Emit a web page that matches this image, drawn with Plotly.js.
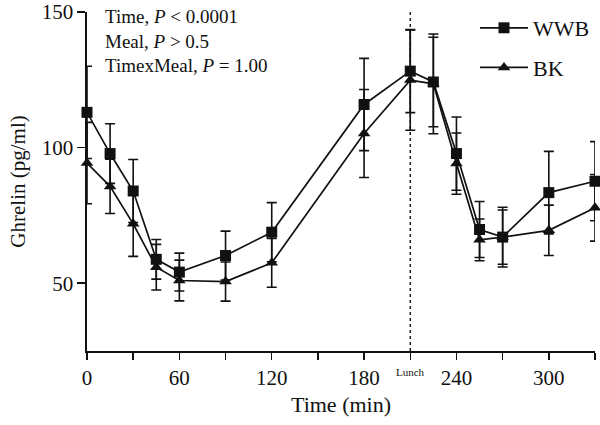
<!DOCTYPE html>
<html>
<head>
<meta charset="utf-8">
<script src="https://cdn.plot.ly/plotly-3.0.1.min.js"></script>
<style>html,body{margin:0;padding:0;background:#fff;}#chart{width:600px;height:425px;}</style>
</head>
<body>
<div id="chart"></div>
<script>
const timeMin = [0, 15, 30, 45, 60, 90, 120, 180, 210, 225, 240, 255, 270, 300, 330];
const wwbMean = [113, 97.8, 84, 58.8, 54.1, 60.2, 68.8, 115.9, 128.2, 124.2, 97.8, 69.8, 67, 83.4, 87.6];
const wwbErr  = [17, 11, 11.6, 7.3, 7, 9, 10.9, 17, 15.3, 16.5, 13.5, 10.3, 11, 15.2, 14.6];
const bkMean  = [94.3, 85.7, 71.9, 55.9, 51, 50.6, 57.5, 105.2, 124.9, 123.5, 94.1, 66, 67, 69.5, 77.8];
const bkErr   = [15, 10, 12, 8.4, 7.5, 7.2, 9, 16.2, 18.5, 18.4, 11.3, 7.7, 10, 9.3, 12.3];
const seriesNames = ['WWB', 'BK'];
const xTickVals = [0, 30, 60, 90, 120, 150, 180, 210, 240, 270, 300, 330];
const xTickText = ['0', '', '60', '', '120', '', '180', '', '240', '', '300', ''];
const yTickVals = [50, 100, 150];
const lunchTime = 210;
const statsLines = ['Time, <i>P</i> &lt; 0.0001', 'Meal, <i>P</i> &gt; 0.5', 'TimexMeal, <i>P</i> = 1.00'];

const serif = 'Liberation Serif, Times New Roman, serif';
const black = '#111111';

function trace(name, y, err, symbol, size, group) {
  return {
    x: timeMin, y: y, name: name, type: 'scatter', mode: 'lines+markers',
    legendgroup: group,
    line: {color: black, width: 1.7},
    marker: {symbol: symbol, size: size, color: black},
    error_y: {type: 'data', array: err, visible: true, color: black, thickness: 1.6, width: 5},
    cliponaxis: false
  };
}

const data = [
  trace(seriesNames[0], wwbMean, wwbErr, 'square', 11, 'a'),
  trace(seriesNames[1], bkMean, bkErr, 'triangle-up', 11, 'b')
];

const layout = {
  width: 600, height: 425,
  margin: {l: 87, r: 5, t: 12, b: 74},
  paper_bgcolor: '#fff', plot_bgcolor: '#fff',
  font: {family: serif, color: black},
  showlegend: true,
  legend: {
    x: 1, y: 1 + 5 / 339, xanchor: 'right', yanchor: 'top',
    font: {family: serif, size: 22, color: black},
    bgcolor: 'rgba(0,0,0,0)', tracegroupgap: 8, itemwidth: 48, traceorder: 'grouped'
  },
  xaxis: {
    range: [0, 330], tickmode: 'array', tickvals: xTickVals, ticktext: xTickText,
    ticks: 'outside', ticklen: 7, tickwidth: 1.5, tickcolor: black,
    showline: true, linecolor: black, linewidth: 1.6, showgrid: false, zeroline: false,
    tickfont: {family: serif, size: 21, color: black},
    title: {text: 'Time (min)', font: {family: serif, size: 22, color: black}, standoff: 8}
  },
  yaxis: {
    range: [25, 150], tickmode: 'array', tickvals: yTickVals,
    ticks: 'outside', ticklen: 8, tickwidth: 1.5, tickcolor: black,
    showline: true, linecolor: black, linewidth: 1.6, showgrid: false, zeroline: false,
    tickfont: {family: serif, size: 21, color: black},
    title: {text: 'Ghrelin (pg/ml)', font: {family: serif, size: 21, color: black}, standoff: 10}
  },
  shapes: [{
    type: 'line', xref: 'x', yref: 'paper', x0: lunchTime, x1: lunchTime, y0: 0, y1: 1,
    line: {color: black, width: 1.4, dash: 'dot'}
  }],
  annotations: [
    {
      xref: 'paper', yref: 'paper', x: (103 - 87) / 508, y: 1 + 8 / 339,
      xanchor: 'left', yanchor: 'top', align: 'left', showarrow: false,
      text: statsLines.join('<br>'),
      font: {family: serif, size: 19, color: black}
    },
    {
      xref: 'x', yref: 'paper', x: lunchTime, y: -(372 - 351) / 339,
      xanchor: 'center', yanchor: 'middle', showarrow: false,
      text: 'Lunch', font: {family: serif, size: 11, color: black}
    }
  ]
};

Plotly.newPlot('chart', data, layout, {displayModeBar: false, staticPlot: true});
</script>
</body>
</html>
